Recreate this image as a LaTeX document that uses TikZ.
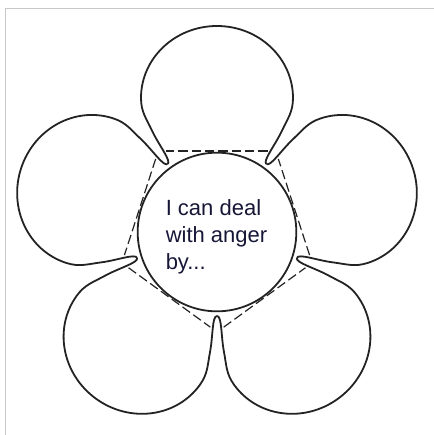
\documentclass[tikz,border=0pt]{standalone}
\usepackage{fontspec}
\setmainfont{Liberation Sans}
\usetikzlibrary{calc}
\definecolor{inkgray}{RGB}{35,35,35}
\definecolor{framegray}{RGB}{200,200,200}
\definecolor{textnavy}{RGB}{22,22,55}
\tikzset{
  petal/.style   = {draw=inkgray, line width=1.35pt, line join=round},
  hub/.style     = {circle, draw=inkgray, line width=1.35pt, minimum size=119pt, inner sep=0pt},
  guide/.style   = {draw=inkgray, line width=0.9pt, dash pattern=on 7pt off 3pt},
  frame/.style   = {draw=framegray, line width=0.75pt},
  caption/.style = {font=\fontsize{16.5}{20}\selectfont, text=textnavy, align=left,
                    inner sep=0pt, anchor=north west},
}

\begin{document}
\begin{tikzpicture}[x=0.75pt, y=0.75pt]
  \useasboundingbox (-217,-203) rectangle (217,232);
  \draw[frame] (-211,-203) |- (217,223);

  % dashed pentagon behind the petals
  \foreach \i in {0,...,4}
    \coordinate (v\i) at (54+72*\i:100);
  \foreach \i [evaluate=\i as \j using {int(mod(\i+1,5))}] in {0,...,4}
    \draw[guide] ($(v\i)!0.07!(v\j)$) -- ($(v\i)!0.93!(v\j)$);

  % petals
  \foreach \a in {0,72,...,288}
    \draw[petal, rotate=\a] (54:84) .. controls +(144:5) and +(-115.2:16) .. (64.8,101)
      .. controls +(64.8:14) and +(-90:14) .. (76,134)
      arc[start angle=0, end angle=180, x radius=76, y radius=72]
      .. controls +(-90:14) and +(115.2:14) .. (-64.8,101)
      .. controls +(-64.8:16) and +(36:5) .. (126:84);

  \node[hub] (hub) at (0,0) {};
  \node[caption] (txt) at (-51.5,32.3) {I can deal\\with anger\\by...};
\end{tikzpicture}
\end{document}
